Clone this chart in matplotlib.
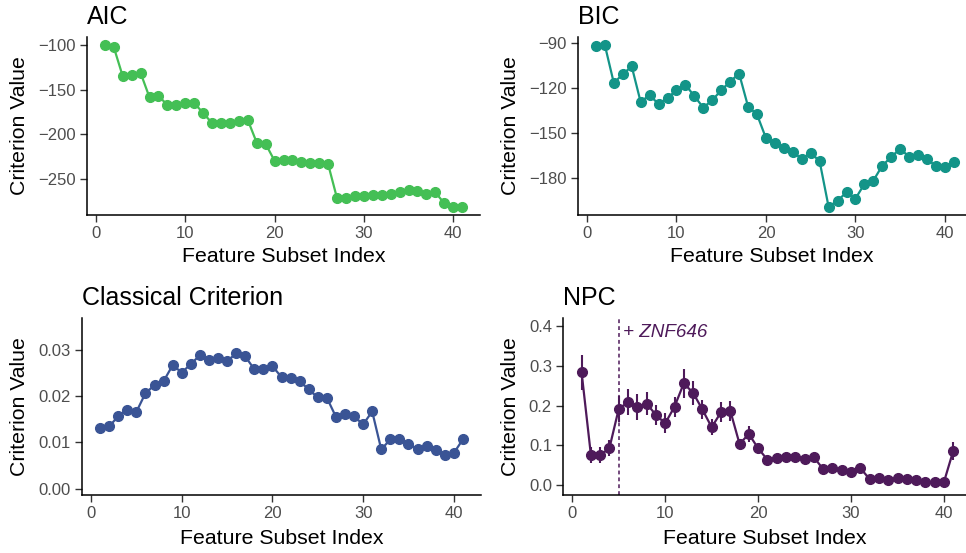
import numpy as np
import matplotlib
matplotlib.use("Agg")
import matplotlib.pyplot as plt

plt.rcParams['font.family'] = ['Liberation Sans', 'DejaVu Sans']

x_index = list(range(1, 42))

aic_values = [-99.6, -102, -134.7, -133, -131, -158.6, -157, -167, -167, -165,
              -165, -176, -187.6, -187, -187, -185, -184, -209.5, -211, -230,
              -229, -229, -231.6, -232.7, -232, -234, -272.5, -272, -270, -270,
              -268.6, -269, -267, -265, -263, -264.6, -267, -265.5, -278, -282, -282]

bic_values = [-92.3, -91.4, -116.5, -110.8, -105.5, -129.2, -124.6, -130.6, -126.5, -121.4,
              -117.7, -125.3, -132.9, -128, -121.4, -115.6, -110.3, -132.2, -137.5, -153.2,
              -156.5, -159.7, -162.2, -167.1, -162.9, -168.7, -198.9, -194.8, -189.2, -193.4,
              -183.7, -181.4, -171.5, -165.7, -160.2, -165.7, -164.3, -167.1, -171.9, -172.6, -168.9]

classical_values = [0.01314, 0.01342, 0.01565, 0.01701, 0.01658, 0.0206, 0.02233, 0.02319, 0.02663, 0.02505,
                    0.02685, 0.02879, 0.02771, 0.02821, 0.0275, 0.02915, 0.0285, 0.02577, 0.02577, 0.02642,
                    0.02405, 0.02376, 0.02319, 0.02139, 0.01967, 0.0196, 0.01551, 0.01601, 0.01558, 0.01385,
                    0.01665, 0.00847, 0.01062, 0.01077, 0.00955, 0.00854, 0.00919, 0.00826, 0.00718, 0.00768, 0.01062]
classical_err = [0.0004] * 41

npc_values = [0.284, 0.0756, 0.074, 0.093, 0.1916, 0.208, 0.197, 0.205, 0.176, 0.155,
              0.197, 0.256, 0.232, 0.19, 0.145, 0.183, 0.187, 0.103, 0.128, 0.092,
              0.063, 0.068, 0.0706, 0.0697, 0.066, 0.069, 0.0395, 0.042, 0.036, 0.033,
              0.042, 0.014, 0.017, 0.0126, 0.016, 0.014, 0.012, 0.007, 0.007, 0.007, 0.0857]
npc_err = [0.044, 0.02, 0.02, 0.02, 0.033, 0.033, 0.033, 0.03, 0.025, 0.025,
           0.025, 0.036, 0.03, 0.025, 0.02, 0.025, 0.025, 0.012, 0.02, 0.01,
           0.006, 0.005, 0.005, 0.005, 0.005, 0.005, 0.004, 0.004, 0.004, 0.004,
           0.004, 0.003, 0.003, 0.003, 0.003, 0.003, 0.003, 0.002, 0.002, 0.002, 0.023]

panel_titles = ["AIC", "BIC", "Classical Criterion", "NPC"]
panel_colors = ["#44bf55", "#139488", "#3a5495", "#4e1a5a"]
annot_gene = "ZNF646"
annot_x = 5

W, H = 966, 553
fig = plt.figure(figsize=(W / 100, H / 100), dpi=100)


def add_ax(l, r, t, b):
    return fig.add_axes([l / W, 1 - b / H, (r - l) / W, (b - t) / H])


def style(ax, yticks, ylabels):
    for s in ['top', 'right']:
        ax.spines[s].set_visible(False)
    for s in ['left', 'bottom']:
        ax.spines[s].set_linewidth(1.1)
        ax.spines[s].set_color('black')
    ax.set_xticks([0, 10, 20, 30, 40])
    ax.set_yticks(yticks)
    ax.set_yticklabels(ylabels)
    ax.tick_params(axis='both', length=5, width=1.0, color='#333333',
                   labelsize=12, labelcolor='#4d4d4d', pad=3)


label_fs = 15.3
title_fs = 18

panels = [
    dict(box=(87, 480, 37, 215), xlim=(-1, 43), ylim=(-291.1, -90.5), y=aic_values, err=None,
         yticks=[-250, -200, -150, -100], ylabels=["\u2212250", "\u2212200", "\u2212150", "\u2212100"]),
    dict(box=(578, 966, 37, 215), xlim=(-1, 42.35), ylim=(-204.3, -86.0), y=bic_values, err=None,
         yticks=[-180, -150, -120, -90], ylabels=["\u2212180", "\u2212150", "\u2212120", "\u221290"]),
    dict(box=(82, 481, 318, 495), xlim=(-1, 43), ylim=(-0.00136, 0.0368), y=classical_values, err=classical_err,
         yticks=[0, 0.01, 0.02, 0.03], ylabels=["0.00", "0.01", "0.02", "0.03"]),
    dict(box=(563, 966, 318, 495), xlim=(-1, 42.37), ylim=(-0.026, 0.421), y=npc_values, err=npc_err,
         yticks=[0, 0.1, 0.2, 0.3, 0.4], ylabels=["0.0", "0.1", "0.2", "0.3", "0.4"]),
]

title_baselines = [24, 24, 305, 305]
xlabel_centers_y = [257, 257, 538, 538]
ylabel_x = [20, 510, 20, 510]

for i, p in enumerate(panels):
    l, r, t, b = p['box']
    ax = add_ax(l, r, t, b)
    c = panel_colors[i]
    if p['err'] is not None:
        ax.errorbar(x_index, p['y'], yerr=p['err'], fmt='none', ecolor=c, elinewidth=1.5, capsize=0, zorder=2)
    ax.plot(x_index, p['y'], color=c, lw=1.6, marker='o', ms=7.0, mec=c, mfc=c, zorder=3)
    ax.set_xlim(*p['xlim'])
    ax.set_ylim(*p['ylim'])
    style(ax, p['yticks'], p['ylabels'])
    fig.text(l / W, 1 - title_baselines[i] / H, panel_titles[i], fontsize=title_fs,
             ha='left', va='baseline', color='black')
    fig.text((l + r) / 2 / W, 1 - xlabel_centers_y[i] / H, "Feature Subset Index",
             fontsize=label_fs, ha='center', va='center', color='black')
    fig.text(ylabel_x[i] / W, 1 - (t + b) / 2 / H, "Criterion Value", fontsize=label_fs,
             ha='center', va='center', rotation=90, color='black')
    if i == 3:
        ax.axvline(annot_x, color=c, lw=1.1, ls=(0, (2.5, 2)), zorder=1)
        ax.text(annot_x + 0.45, 0.385, "+ " + annot_gene, color=c, fontsize=13.6,
                style='italic', ha='left', va='center')

fig.savefig("out.png", dpi=100)
